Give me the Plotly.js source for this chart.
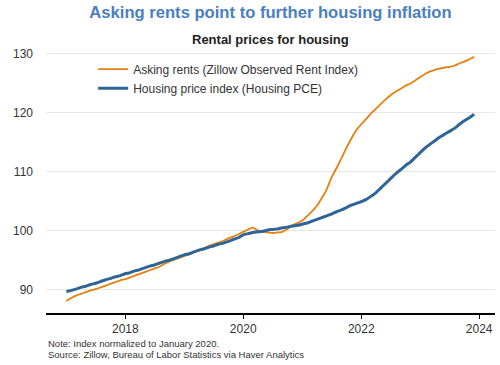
<!DOCTYPE html>
<html>
<head>
<meta charset="utf-8">
<script src="https://cdn.plot.ly/plotly-3.0.1.min.js"></script>
<style>html,body{margin:0;padding:0;background:#fff;}#chart{width:500px;height:365px;}</style>
</head>
<body>
<div id="chart"></div>
<script>
// Monthly dates Jan 2017 - Dec 2023
const months = [];
for (let y = 2017; y <= 2023; y++) {
  for (let m = 1; m <= 12; m++) months.push(y + '-' + String(m).padStart(2, '0') + '-01');
}

const askingRents = [
  88.1, 88.6, 89.0, 89.3, 89.6, 89.9, 90.1, 90.4, 90.7, 91.0, 91.3, 91.6,
  91.8, 92.1, 92.4, 92.7, 93.0, 93.3, 93.6, 93.9, 94.4, 94.8, 95.1, 95.4,
  95.7, 96.0, 96.3, 96.6, 97.0, 97.4, 97.7, 98.0, 98.3, 98.7, 99.0, 99.4,
  99.8, 100.2, 100.5, 100.0, 99.8, 99.7, 99.6, 99.7, 99.8, 100.3, 100.9, 101.3,
  101.7, 102.5, 103.2, 104.2, 105.5, 107.0, 109.0, 110.6, 112.3, 114.0, 115.6, 117.0,
  118.0, 118.9, 119.8, 120.6, 121.4, 122.2, 122.9, 123.5, 124.0, 124.5, 124.9, 125.4,
  126.0, 126.5, 126.9, 127.2, 127.4, 127.6, 127.7, 127.9, 128.3, 128.6, 129.0, 129.4
];

const housingPCE = [
  89.7, 89.9, 90.1, 90.4, 90.6, 90.9, 91.1, 91.4, 91.7, 91.9, 92.2, 92.4,
  92.7, 92.9, 93.2, 93.4, 93.7, 94.0, 94.2, 94.5, 94.8, 95.0, 95.3, 95.6,
  95.9, 96.1, 96.4, 96.7, 96.9, 97.2, 97.4, 97.7, 97.9, 98.2, 98.5, 98.8,
  99.3, 99.5, 99.7, 99.8, 99.9, 100.1, 100.2, 100.3, 100.5, 100.6, 100.8, 100.9,
  101.1, 101.3, 101.6, 101.9, 102.2, 102.5, 102.8, 103.2, 103.5, 103.9, 104.3, 104.6,
  104.9, 105.3, 105.8, 106.4, 107.2, 108.0, 108.8, 109.6, 110.3, 111.0, 111.6, 112.4,
  113.2, 114.0, 114.6, 115.2, 115.8, 116.3, 116.8, 117.3, 118.0, 118.6, 119.1, 119.7
];

const seriesNames = ['Asking rents (Zillow Observed Rent Index)', 'Housing price index (Housing PCE)'];
const yTicks = [90, 100, 110, 120, 130];
const xTickVals = ['2018-01-01', '2020-01-01', '2022-01-01', '2024-01-01'];
const xTickText = ['2018', '2020', '2022', '2024'];
const titleText = 'Asking rents point to further housing inflation';
const subtitleText = 'Rental prices for housing';
const noteText = 'Note: Index normalized to January 2020.';
const sourceText = 'Source: Zillow, Bureau of Labor Statistics via Haver Analytics';

const FONT = 'Liberation Sans, Arial, sans-serif';

const traces = [
  {x: months, y: askingRents, name: seriesNames[0], type: 'scatter', mode: 'lines',
   line: {color: '#e5800f', width: 1.8, shape: 'spline', smoothing: 0.8}},
  {x: months, y: housingPCE, name: seriesNames[1], type: 'scatter', mode: 'lines',
   line: {color: '#2f6496', width: 3, shape: 'spline', smoothing: 0.6}}
];

const layout = {
  width: 500, height: 365,
  margin: {l: 46, r: 5, t: 48, b: 52},
  paper_bgcolor: '#fff', plot_bgcolor: '#fff',
  font: {family: FONT, size: 12, color: '#333'},
  title: {text: '<b>' + titleText + '</b>', x: 0.5, xanchor: 'center', xref: 'paper',
          y: 1 - 12 / 365, yanchor: 'middle', yref: 'container',
          font: {family: FONT, size: 16.6, color: '#4a7fc0'}},
  showlegend: true,
  legend: {x: 0.105, y: 0.975, xanchor: 'left', yanchor: 'top', bgcolor: 'rgba(0,0,0,0)',
           font: {family: FONT, size: 12, color: '#333'}, tracegroupgap: 0},
  xaxis: {type: 'date', range: ['2016-08-28', '2024-04-08'],
          tickvals: xTickVals, ticktext: xTickText, ticks: 'outside', ticklen: 4,
          tickcolor: '#000', tickwidth: 1, showgrid: false, zeroline: false,
          showline: true, linecolor: '#000', linewidth: 1.5,
          tickfont: {family: FONT, size: 12, color: '#333'}, fixedrange: true},
  yaxis: {range: [86.07, 130.9], tickvals: yTicks, showgrid: true, gridcolor: '#e6e6e6',
          gridwidth: 1, zeroline: false, showline: false, ticks: '', ticklabelstandoff: 12,
          tickfont: {family: FONT, size: 12, color: '#333'}, fixedrange: true},
  annotations: [
    {text: '<b>' + subtitleText + '</b>', xref: 'paper', yref: 'paper', x: 0.5, y: (313 - 39) / 265,
     xanchor: 'center', yanchor: 'middle', showarrow: false,
     font: {family: FONT, size: 13, color: '#222'}},
    {text: noteText, xref: 'paper', yref: 'paper', x: 0, y: (313 - 343) / 265,
     xanchor: 'left', yanchor: 'middle', showarrow: false,
     font: {family: FONT, size: 9.5, color: '#333'}},
    {text: sourceText, xref: 'paper', yref: 'paper', x: 0, y: (313 - 354) / 265,
     xanchor: 'left', yanchor: 'middle', showarrow: false,
     font: {family: FONT, size: 9.5, color: '#333'}}
  ]
};

Plotly.newPlot('chart', traces, layout, {displayModeBar: false, staticPlot: true});
</script>
</body>
</html>
